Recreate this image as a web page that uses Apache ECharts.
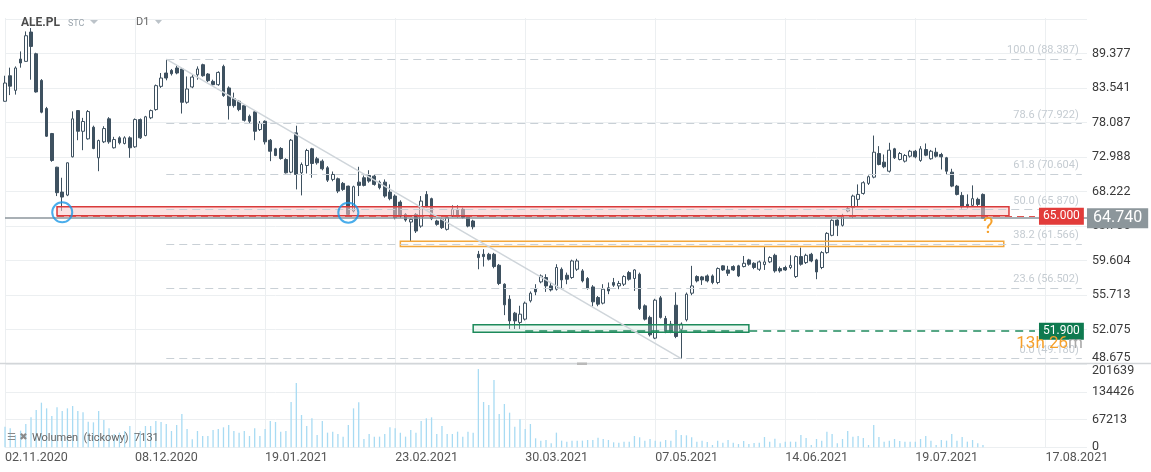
<!DOCTYPE html>
<html>
<head>
<meta charset="utf-8">
<title>ALE.PL D1</title>
<script src="https://cdn.jsdelivr.net/npm/echarts@6.0.0/dist/echarts.min.js"></script>
<style>
  html,
  body {
    margin: 0;
    padding: 0;
    background: #fff;
  }
  #chart {
    width: 1151px;
    height: 472px;
  }
</style>
</head>
<body>
<div id="chart"></div>
<script>
// one label every 25 sessions
const dateLabels = ["02.11.2020", "08.12.2020", "19.01.2021", "23.02.2021", "30.03.2021", "07.05.2021", "14.06.2021", "19.07.2021", "17.08.2021"];
const priceTicks = [48.675, 52.075, 55.713, 59.604, 63.706, 68.222, 72.988, 78.087, 83.541, 89.377];
const volumeTicks = [0, 67213, 134426, 201639];

// daily candles: [open, close, low, high]
const candles = [
  [81.39, 84.35, 81.34, 85.56], [85.56, 83.83, 82.38, 86.92], [83.15, 86.87, 82.46, 87.14], [88.4, 87.72, 86.92, 89.73], [88.0, 92.53, 87.95, 93.31],
  [93.2, 90.61, 84.9, 93.93], [89.32, 82.89, 82.78, 89.5], [84.78, 79.67, 79.5, 85.0], [80.24, 76.01, 75.9, 80.5], [76.41, 72.49, 72.3, 76.5],
  [71.54, 68.06, 67.61, 71.6], [68.14, 67.48, 65.67, 70.08], [67.74, 72.16, 67.6, 72.2], [73.01, 78.64, 72.92, 79.8], [79.92, 76.75, 75.42, 80.0],
  [76.75, 78.23, 73.96, 78.79], [75.62, 79.77, 75.5, 80.0], [77.36, 74.21, 74.1, 77.6], [72.87, 75.37, 70.98, 75.5], [75.18, 77.16, 75.0, 77.51],
  [78.64, 75.18, 74.9, 78.9], [74.31, 75.52, 74.2, 75.92], [75.77, 75.04, 74.8, 76.0], [74.94, 75.77, 74.8, 76.0], [75.77, 74.31, 72.87, 76.0],
  [74.45, 78.53, 74.3, 78.7], [78.53, 75.77, 75.6, 78.7], [76.11, 78.96, 76.0, 79.1], [78.8, 79.92, 78.6, 80.08], [80.08, 83.92, 79.9, 84.1],
  [83.8, 85.18, 83.55, 86.02], [86.02, 85.18, 84.8, 88.39], [86.46, 85.9, 85.6, 86.7], [86.87, 86.02, 85.8, 87.26], [86.7, 81.23, 79.46, 86.9],
  [81.23, 83.37, 81.0, 85.44], [83.7, 85.34, 83.5, 85.73], [85.73, 86.7, 84.9, 87.14], [87.43, 85.56, 85.4, 87.6], [85.85, 84.74, 84.5, 86.0],
  [84.62, 84.08, 83.9, 84.9], [84.08, 86.12, 83.9, 86.3], [87.14, 82.3, 82.1, 87.43], [83.54, 80.7, 78.53, 83.8], [81.82, 80.7, 80.39, 82.78],
  [81.39, 80.08, 79.82, 81.6], [80.7, 78.42, 78.23, 80.9], [79.05, 78.27, 78.0, 79.3], [79.72, 76.75, 75.42, 79.9], [77.01, 77.92, 76.8, 78.3],
  [78.27, 75.18, 74.79, 78.4], [75.42, 73.81, 72.39, 75.6], [74.16, 73.2, 73.1, 74.3], [74.21, 72.77, 72.6, 74.4], [72.63, 70.76, 70.66, 72.8],
  [70.85, 75.42, 70.7, 75.6], [76.51, 70.53, 68.5, 77.59], [70.76, 71.92, 67.7, 72.2], [71.78, 73.92, 70.67, 74.16], [74.16, 72.06, 70.08, 74.3],
  [72.73, 72.16, 71.9, 73.0], [72.39, 71.32, 71.1, 72.63], [71.46, 69.75, 69.5, 71.69], [69.85, 70.53, 69.6, 70.94], [69.94, 68.27, 68.0, 70.1],
  [69.31, 68.5, 68.3, 69.5], [68.94, 65.23, 64.9, 69.0], [65.66, 68.86, 65.49, 69.0], [69.48, 69.04, 67.61, 71.6], [70.08, 69.04, 68.9, 70.39],
  [70.39, 69.62, 69.4, 71.12], [70.3, 69.17, 69.0, 70.5], [69.48, 68.73, 68.5, 69.7], [69.48, 67.61, 67.4, 69.85], [68.14, 67.27, 67.05, 69.17],
  [67.61, 64.81, 64.6, 67.83], [66.82, 65.01, 64.8, 67.05], [65.23, 64.51, 64.3, 65.4], [64.26, 64.6, 61.8, 64.7], [65.23, 63.14, 62.9, 65.4],
  [63.75, 66.95, 63.55, 67.61], [67.83, 66.3, 66.1, 68.27], [67.27, 64.69, 64.5, 67.4], [64.39, 63.97, 63.8, 64.55], [64.6, 63.56, 63.4, 64.8],
  [63.35, 64.81, 63.2, 65.0], [65.01, 65.88, 64.9, 66.4], [65.88, 65.01, 64.8, 66.4], [65.88, 64.85, 64.7, 66.1], [64.94, 63.75, 63.6, 65.1],
  [64.39, 63.66, 63.35, 64.55], [60.33, 59.94, 58.59, 60.73], [60.33, 60.06, 58.9, 60.93], [60.33, 59.75, 59.6, 60.5], [60.33, 58.9, 58.7, 60.5],
  [59.05, 56.98, 56.8, 59.2], [56.9, 54.65, 53.56, 57.0], [55.26, 52.96, 52.13, 55.69], [53.77, 52.96, 52.13, 53.9], [52.8, 53.66, 52.13, 54.55],
  [53.14, 54.83, 53.0, 55.0], [55.08, 55.91, 54.9, 56.1], [56.43, 56.05, 55.69, 56.9], [57.16, 57.83, 57.0, 58.0], [57.65, 56.71, 56.05, 58.02],
  [56.71, 56.27, 56.1, 57.16], [56.35, 58.79, 56.2, 59.17], [58.59, 57.38, 56.35, 58.8], [57.91, 57.46, 56.9, 58.21], [57.65, 59.55, 57.5, 59.7],
  [58.59, 59.55, 58.4, 59.8], [58.4, 57.27, 57.1, 58.6], [57.54, 56.43, 56.3, 57.7], [56.6, 54.97, 54.47, 56.8], [55.44, 54.72, 54.5, 55.6],
  [54.83, 56.35, 54.7, 56.9], [56.5, 56.16, 55.8, 57.09], [57.09, 56.79, 56.6, 57.6], [56.71, 56.98, 56.35, 57.27], [56.9, 57.76, 56.7, 57.9],
  [58.21, 57.46, 57.3, 58.4], [57.54, 58.51, 56.16, 58.59], [58.02, 54.26, 54.1, 58.21], [54.54, 53.14, 53.0, 54.7], [53.32, 51.54, 51.37, 53.5],
  [51.2, 55.15, 51.1, 55.3], [55.4, 53.32, 53.2, 55.6], [53.21, 51.88, 51.7, 53.48], [52.62, 51.88, 51.7, 52.96], [54.61, 51.37, 51.2, 56.0],
  [52.1, 52.62, 49.18, 52.8], [53.07, 55.8, 52.9, 55.98], [55.91, 56.71, 55.69, 58.98], [57.76, 57.27, 57.1, 57.9], [57.72, 57.38, 56.82, 57.83],
  [57.83, 57.27, 57.1, 58.0], [57.83, 57.09, 56.9, 58.0], [57.09, 58.67, 56.9, 58.8], [58.98, 58.51, 58.4, 59.05], [58.51, 58.13, 57.83, 58.98],
  [58.9, 58.51, 58.4, 59.05], [58.98, 57.83, 57.7, 59.1], [58.9, 59.28, 58.8, 60.13], [59.67, 59.17, 59.0, 59.8], [59.28, 58.79, 58.6, 59.4],
  [58.59, 59.44, 58.4, 59.6], [59.13, 59.44, 58.51, 61.32], [59.44, 59.95, 59.3, 60.1], [60.21, 58.4, 58.2, 60.4], [58.67, 58.4, 58.2, 58.9],
  [58.79, 58.51, 58.4, 59.0], [58.79, 59.05, 58.6, 60.21], [57.76, 60.06, 57.6, 60.2], [60.06, 59.17, 59.0, 61.13], [59.36, 60.21, 59.2, 60.4],
  [60.33, 59.55, 59.4, 60.5], [59.67, 58.28, 57.46, 59.8], [58.79, 60.53, 58.6, 60.7], [60.53, 62.85, 60.4, 63.0], [62.61, 64.48, 62.5, 64.6],
  [64.51, 63.85, 62.52, 64.6], [63.85, 65.1, 63.7, 65.3], [65.66, 65.97, 65.5, 66.22], [66.1, 67.61, 64.81, 67.8], [67.18, 67.83, 66.22, 69.17],
  [67.96, 69.4, 67.8, 69.6], [69.31, 70.22, 69.1, 70.4], [70.16, 73.67, 70.0, 76.11], [73.48, 71.92, 71.8, 74.55], [72.25, 71.6, 71.4, 73.34],
  [70.98, 73.96, 70.8, 75.04], [74.16, 72.87, 72.7, 74.3], [72.63, 73.48, 72.5, 73.7], [72.39, 73.2, 72.2, 73.4], [73.1, 73.81, 72.9, 74.0],
  [73.81, 73.01, 72.8, 74.0], [72.49, 74.16, 72.3, 74.55], [74.06, 73.24, 73.1, 74.94], [72.73, 73.81, 72.6, 74.0], [73.67, 73.1, 72.9, 74.31],
  [73.34, 73.01, 71.22, 73.58], [72.87, 70.98, 70.53, 73.0], [70.85, 68.94, 68.8, 71.32], [68.94, 67.83, 67.7, 69.1], [67.7, 66.22, 65.97, 68.14],
  [66.52, 66.22, 66.0, 67.83], [66.39, 67.27, 66.3, 69.04], [67.18, 66.52, 66.22, 67.4], [67.83, 64.74, 64.74, 67.96]
];

// tick volume per session
const volumes = [
  49972, 45942, 29822, 40300, 56420, 72540, 90272, 108004, 94302, 75764,
  96720, 87854, 94302, 99944, 87854, 84630, 62062, 60450, 87854, 66092,
  45942, 32240, 35464, 39494, 51584, 35464, 39494, 51584, 51584, 63674,
  61256, 56420, 39494, 54002, 80600, 44330, 19344, 39494, 27404, 27404,
  41912, 44330, 48360, 54002, 39494, 35464, 39494, 27404, 45942, 27404,
  44330, 63674, 61256, 37882, 39494, 109616, 155558, 78182, 51584, 70122,
  29822, 63674, 35464, 37882, 32240, 25792, 54002, 94302, 108810, 20150,
  32240, 25792, 25792, 32240, 48360, 45942, 35464, 25792, 41912, 35464,
  63674, 70122, 72540, 32240, 51584, 32240, 32240, 37882, 25792, 37882,
  35464, 189410, 109616, 102362, 162812, 80600, 104780, 83824, 49972, 67704,
  44330, 56420, 21762, 16120, 17732, 9672, 35464, 16120, 13702, 16120,
  16120, 16120, 17732, 17732, 23374, 20150, 17732, 12090, 11284, 13702,
  13702, 27404, 24180, 16120, 20150, 16120, 13702, 17732, 16120, 41912,
  29822, 29016, 24180, 13702, 16120, 12896, 5642, 16120, 11284, 17732,
  11284, 8060, 15314, 8060, 10478, 11284, 24986, 13702, 20956, 9672,
  13702, 13702, 13702, 29822, 22568, 5642, 20150, 16120, 37882, 32240,
  9672, 20150, 39494, 25792, 27404, 22568, 5642, 54002, 24986, 13702,
  16120, 20150, 15314, 13702, 13702, 13702, 20150, 27404, 16120, 5642,
  17732, 16120, 32240, 16120, 24986, 13702, 17732, 9672, 5642
];

// fibonacci retracement drawn from the December top to the May low
const fibLevels = [100.0, 78.6, 61.8, 50.0, 38.2, 23.6, 0.0];
const fibPrices = [88.387, 77.922, 70.604, 65.87, 61.566, 56.502, 49.18];

const lastPrice = 64.74;
const resistance = 65.0;
const support = 51.9;
// zones: [first session, last session, low, high]
const redZone = [10, 193, 65.05, 66.2];
const orangeZone = [76, 192, 61.25, 61.9];
const greenZone = [90, 143, 51.8, 52.55];
// trend line from the top to the low: [session, price]
const trendLine = [[31, 88.387], [130, 49.18]];
// touches of the support zone marked with circles: [session, price]
const touches = [[11, 65.5], [66, 65.45]];

const sessionSlots = 209;
const sessions = Array.from({ length: sessionSlots }, (_, i) => String(i));

// log price scale: axis value = number of tick steps above the lowest tick
const logMin = Math.log(priceTicks[0]);
const logStep = (Math.log(priceTicks[priceTicks.length - 1]) - logMin) / (priceTicks.length - 1);
const toAxis = (p) => (Math.log(p) - logMin) / logStep;

const isLabelSlot = (index) => index % 25 === 0;

const chart = echarts.init(document.getElementById("chart"));

const gridLine = { lineStyle: { color: "#eceff1", width: 1 } };
const font = "Roboto";

const fibLines = fibPrices.map((p, k) => [
  {
    coord: [31, toAxis(p)],
    label: { formatter: fibLevels[k].toFixed(1) + " (" + p.toFixed(3) + ")" },
  },
  { coord: [207, toAxis(p)] },
]);

const zone = (z, fill, border) => [
  {
    coord: [z[0], toAxis(z[3])],
    itemStyle: { color: fill, borderColor: border, borderWidth: 1.5 },
  },
  { coord: [z[1], toAxis(z[2])] },
];

const option = {
  animation: false,
  textStyle: { fontFamily: font },
  grid: [
    { left: 5, right: 64, top: 18, height: 346 },
    { left: 5, right: 64, top: 364, height: 83.3 },
  ],
  xAxis: [
    {
      type: "category",
      gridIndex: 0,
      data: sessions,
      boundaryGap: false,
      axisLine: { show: false },
      axisTick: { show: false },
      axisLabel: { show: false },
      splitLine: { show: true, interval: isLabelSlot, ...gridLine },
    },
    {
      type: "category",
      gridIndex: 1,
      data: sessions,
      boundaryGap: false,
      axisLine: { show: false },
      axisTick: { show: false },
      axisLabel: {
        interval: isLabelSlot,
        formatter: (v, index) => dateLabels[index / 25] || "",
        align: "left",
        margin: 4,
        color: "#555",
        fontSize: 12.5,
      },
      splitLine: { show: true, interval: isLabelSlot, ...gridLine },
    },
  ],
  yAxis: [
    {
      type: "value",
      gridIndex: 0,
      position: "right",
      min: 0,
      max: 10.027,
      interval: 1,
      axisLine: { show: false },
      axisTick: { show: false },
      axisLabel: {
        margin: 5,
        color: "#3a3a3a",
        fontSize: 12.5,
        verticalAlignMinLabel: "bottom",
        formatter: (v) => {
          const k = Math.round(v);
          if (Math.abs(v - k) > 0.05 || k >= priceTicks.length) return "";
          return priceTicks[k].toFixed(3);
        },
      },
      splitLine: { show: true, showMaxLine: false, ...gridLine },
    },
    {
      type: "value",
      gridIndex: 1,
      position: "right",
      min: volumeTicks[0],
      max: volumeTicks[volumeTicks.length - 1],
      interval: volumeTicks[1],
      axisLine: { show: false },
      axisTick: { show: false },
      axisLabel: {
        margin: 5,
        color: "#3a3a3a",
        fontSize: 12.5,
        verticalAlignMaxLabel: "top",
        formatter: (v) => String(Math.round(v)),
      },
      splitLine: { show: true, ...gridLine },
    },
  ],
  series: [
    {
      name: "ALE.PL",
      type: "candlestick",
      xAxisIndex: 0,
      yAxisIndex: 0,
      clip: false,
      barWidth: 3.2,
      itemStyle: {
        color: "#ffffff",
        color0: "#3e5160",
        borderColor: "#3e5160",
        borderColor0: "#3e5160",
        borderWidth: 1,
      },
      data: candles.map((c) => c.map(toAxis)),
      z: 3,
    },
    {
      name: "Wolumen",
      type: "bar",
      xAxisIndex: 1,
      yAxisIndex: 1,
      barWidth: 1.3,
      itemStyle: { color: "#a8dbf3" },
      data: volumes,
    },
    {
      name: "levels",
      type: "line",
      xAxisIndex: 0,
      yAxisIndex: 0,
      clip: false,
      data: [],
      markArea: {
        silent: true,
        z: 6,
        data: [
          zone(redZone, "rgba(250,200,200,0.55)", "#d93a3a"),
          zone(orangeZone, "rgba(255,240,222,0.25)", "#f3a73b"),
          zone(greenZone, "rgba(200,232,214,0.3)", "#1d8a5b"),
        ],
      },
      markLine: {
        silent: true,
        symbol: ["none", "none"],
        z: 7,
        label: {
          position: "insideEndTop",
          color: "#c5ccd2",
          fontSize: 11,
          distance: 3,
        },
        lineStyle: { color: "#c9d0d6", type: [8, 5], width: 1 },
        data: [
          ...fibLines,
          [
            { coord: [trendLine[0][0], toAxis(trendLine[0][1])], lineStyle: { color: "#cfd5da", type: "solid", width: 1.5 }, label: { show: false } },
            { coord: [trendLine[1][0], toAxis(trendLine[1][1])] },
          ],
          [
            {
              coord: [redZone[0], toAxis(resistance)],
              lineStyle: { color: "#e0524f", type: [7, 5], width: 1 },
              label: {
                position: "end",
                formatter: resistance.toFixed(3),
                color: "#fff",
                backgroundColor: "#e23c3a",
                padding: [3, 4, 2, 4],
                fontSize: 12,
                distance: 4,
              },
            },
            { coord: [198, toAxis(resistance)] },
          ],
          [
            {
              coord: [100, toAxis(support)],
              lineStyle: { color: "#1f8a5e", type: [8, 6], width: 1.5 },
              label: {
                position: "end",
                formatter: support.toFixed(3),
                color: "#fff",
                backgroundColor: "#0f7a50",
                padding: [3, 4, 2, 4],
                fontSize: 12,
                distance: 4,
              },
            },
            { coord: [198, toAxis(support)] },
          ],
          [
            {
              coord: [0, toAxis(lastPrice)],
              lineStyle: { color: "#8c969c", type: "solid", width: 1.5 },
              label: {
                position: "end",
                formatter: lastPrice.toFixed(3),
                color: "#fff",
                backgroundColor: "#8c969b",
                padding: [3, 6, 1, 6],
                fontSize: 16,
                distance: 0,
              },
            },
            { coord: [sessionSlots - 1, toAxis(lastPrice)] },
          ],
        ],
      },
    },
    {
      name: "touches",
      type: "scatter",
      xAxisIndex: 0,
      yAxisIndex: 0,
      symbol: "circle",
      symbolSize: 20,
      itemStyle: { color: "rgba(0,0,0,0)", borderColor: "#1d98e6", borderWidth: 2 },
      data: touches.map((t) => [t[0], toAxis(t[1])]),
      z: 8,
    },
  ],
  graphic: [
    { type: "text", left: 21, top: 17, z: 20, style: { text: "ALE.PL", font: "bold 12px Roboto", fill: "#4d4d4d" } },
    { type: "text", left: 68, top: 19, z: 20, style: { text: "STC", font: "9px Roboto", fill: "#9aa4ac" } },
    { type: "polygon", z: 20, shape: { points: [[90, 20], [98, 20], [94, 24]] }, style: { fill: "#bcc3c9" } },
    { type: "text", left: 136, top: 17, z: 20, style: { text: "D1", font: "11px Roboto", fill: "#666" } },
    { type: "polygon", z: 20, shape: { points: [[155, 20], [162, 20], [158.5, 24]] }, style: { fill: "#bcc3c9" } },
    { type: "line", z: 20, shape: { x1: 0, y1: 363.5, x2: 1151, y2: 363.5 }, style: { stroke: "#d3d6d9", lineWidth: 1.5 } },
    { type: "rect", z: 21, shape: { x: 577, y: 362.5, width: 10, height: 2.5 }, style: { fill: "#b9b9b9" } },
    { type: "text", left: 7, top: 432, z: 20, style: { text: "☰ ✖", font: "10px DejaVu Sans", fill: "#8a8a8a" } },
    { type: "text", left: 32, top: 433, z: 20, style: { text: "Wolumen  (tickowy)  7131", font: "11px Roboto", fill: "#666" } },
    { type: "text", left: 983, top: 216, z: 20, style: { text: "?", font: "22px Roboto", fill: "#f6a02a" } },
    {
      type: "text",
      z: 20,
      x: 1083,
      y: 344,
      style: {
        text: "{a|13h 26}{b|m}",
        align: "right",
        verticalAlign: "middle",
        font: "17px Roboto",
        rich: {
          a: { fill: "#f6a02a", font: "17px Roboto" },
          b: { fill: "#a8a8a8", font: "17px Roboto" },
        },
      },
    },
  ],
};

chart.setOption(option);
</script>
</body>
</html>
